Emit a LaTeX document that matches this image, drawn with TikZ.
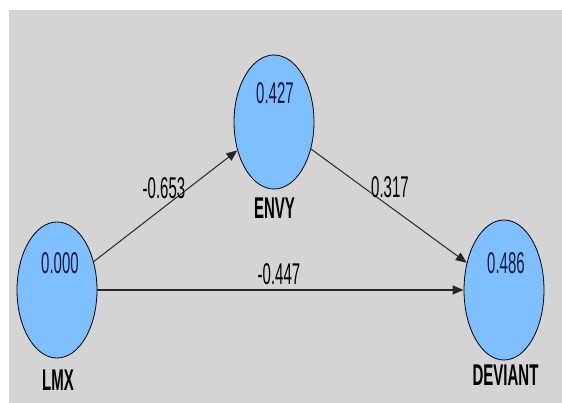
\documentclass[tikz,border=0pt]{standalone}
\usepackage{fontspec}
\setmainfont{Liberation Sans}
\newfontfamily\narrowfont{Liberation Sans}[FakeStretch=0.5]
\usetikzlibrary{arrows.meta,shapes.geometric}

\definecolor{bggray}{RGB}{212,212,212}
\definecolor{latentblue}{RGB}{125,191,255}
\definecolor{valtext}{RGB}{25,25,60}

\begin{document}
\begin{tikzpicture}[x=1pt, y=-1pt, >={Triangle[length=11pt,width=9pt]},
    latent/.style={ellipse, draw=black, line width=0.8pt, fill=latentblue,
        minimum width=80pt, minimum height=136pt, inner sep=0pt},
    vallbl/.style={font=\narrowfont\fontsize{30}{32}\selectfont, text=valtext, inner sep=0pt},
    namelbl/.style={font=\narrowfont\bfseries\fontsize{30}{32}\selectfont, inner sep=0pt},
    coeflbl/.style={font=\narrowfont\fontsize{30}{32}\selectfont, inner sep=0pt},
    effect/.style={->, draw=black!85, line width=1pt}]

    \useasboundingbox (0,0) rectangle (562,403);

    % background panel
    \fill[bggray] (9,10) rectangle (562,403);

    % latent variables
    \node[latent] (lmx) at (57,290) {};
    \node[latent, minimum height=134pt] (envy) at (274,122) {};
    \node[latent, minimum height=140pt] (deviant) at (504,290) {};

    % paths
    \draw[effect] (lmx) -- (envy);
    \draw[effect] (envy) -- (deviant);
    \draw[effect, line width=1.3pt] (lmx) -- (deviant);

    % R square values
    \node[vallbl] (rlmx) at (60,263) {0.000};
    \node[vallbl] (renvy) at (275,93.5) {0.427};
    \node[vallbl] (rdeviant) at (506,263) {0.486};

    % names
    \node[namelbl] (nlmx) at (58,380) {LMX};
    \node[namelbl] (nenvy) at (274.5,208) {ENVY};
    \node[namelbl] (ndeviant) at (505.5,375) {DEVIANT};

    % path coefficients
    \node[coeflbl] (c1) at (164,188) {-0.653};
    \node[coeflbl] (c2) at (390,187) {0.317};
    \node[coeflbl] (c3) at (279,274.5) {-0.447};

\end{tikzpicture}
\end{document}
